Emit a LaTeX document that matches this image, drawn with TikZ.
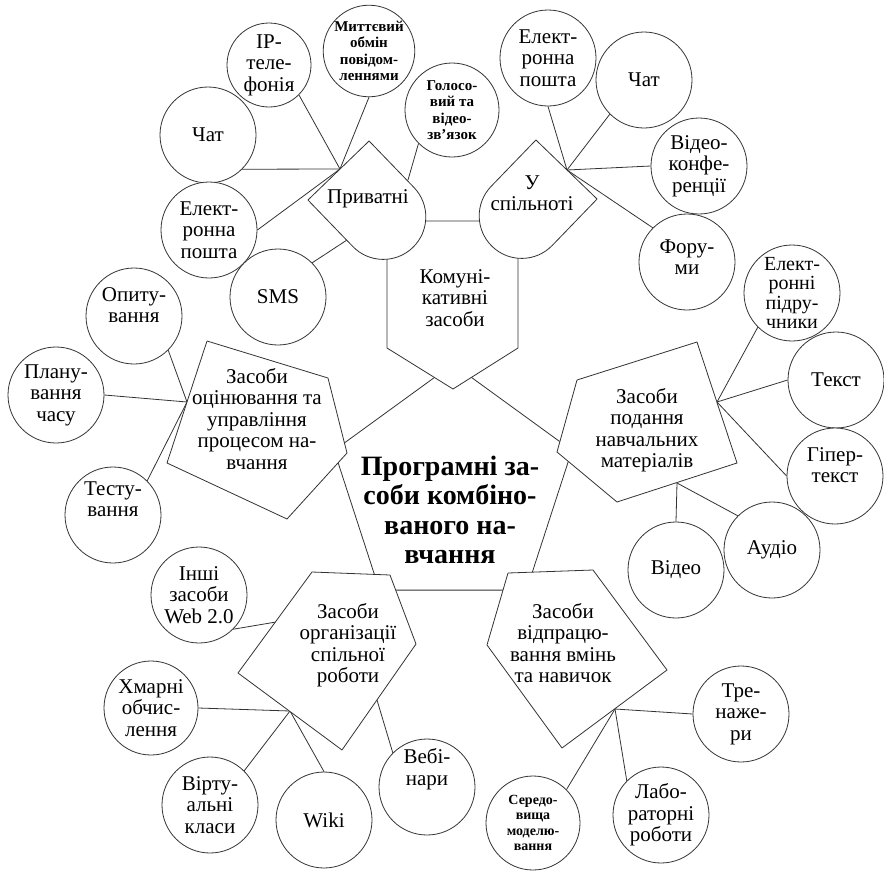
\documentclass[tikz,border=0pt]{standalone}
\usepackage{fontspec}
\setmainfont{Liberation Serif}
\usetikzlibrary{positioning}

\begin{document}
\begin{tikzpicture}[x=1pt, y=-1pt, line width=0.8pt,
    leaf/.style={circle, draw=black!80, fill=white, minimum size=96pt, inner sep=0pt,
        align=center, font=\fontsize{21}{21.5}\selectfont},
    tiny/.style={font=\fontsize{15}{16.5}\selectfont\bfseries},
    box/.style={draw=black!80, fill=white, line join=round},
    txt/.style={align=center, inner sep=0pt, font=\fontsize{21}{21.5}\selectfont},
    ]
\useasboundingbox (0,0) rectangle (884,871);

\draw[box] (453,364) -- (571.9,450.4) -- (526.5,590.1) -- (379.5,590.1) -- (334.1,450.4) -- cycle;

% leaves
\node[leaf] (chatA) at (208,135) {Чат};
\node[leaf, minimum size=84pt] (ipA) at (269,65) {IP-\\теле-\\фонія};
\node[leaf, minimum size=90pt, tiny] (mytt) at (369,51) {Миттєвий\\обмін\\повідом-\\леннями};
\node[leaf, minimum size=94pt, tiny] (holos) at (452,110) {Голосо-\\вий та\\відео-\\зв’язок};
\node[leaf] (mailA) at (209,230) {Елект-\\ронна\\пошта};
\node[leaf] (sms) at (278,297) {SMS};

\node[leaf] (mailB) at (548,58) {Елект-\\ронна\\пошта};
\node[leaf] (chatB) at (644,80) {Чат};
\node[leaf] (vidconf) at (699,166) {Відео-\\конфе-\\ренції};
\node[leaf] (forum) at (687,262) {Фору-\\ми\\[-11.5pt]~};

\node[leaf, font=\fontsize{20}{19.5}\selectfont] (pidr) at (792,293) {Елект-\\ронні\\підру-\\чники};
\node[leaf] (tekst) at (836,380) {Текст};
\node[leaf] (hyper) at (835,476) {Гіпер-\\текст\\~};
\node[leaf] (audio) at (772,550) {Аудіо};
\node[leaf] (video) at (676,570) {Відео};

\node[leaf] (opyt) at (134,316) {Опиту-\\вання\\~};
\node[leaf] (plan) at (56,395) {Плану-\\вання\\часу};
\node[leaf] (test) at (113,515) {Тесту-\\вання\\[10.5pt]~};

\node[leaf] (web) at (199,595) {Інші\\засоби\\Web 2.0};
\node[leaf, minimum size=94pt] (cloud) at (151,708) {Хмарні\\обчис-\\лення};
\node[leaf] (virt) at (210,805) {Вірту-\\альні\\класи};
\node[leaf] (wiki) at (324,820) {Wiki};
\node[leaf] (webin) at (427,787) {Вебі-\\нари\\[18.5pt]~};

\node[leaf] (tren) at (741,714) {Тре-\\наже-\\ри};
\node[leaf] (lab) at (661,815) {Лабо-\\раторні\\роботи};
\node[leaf, minimum size=94pt, tiny, font=\fontsize{14}{15.5}\selectfont\bfseries] (sered) at (533,823) {Середо-\\вища\\моделю-\\вання};

% hubs
\coordinate (hP) at (340,169);
\coordinate (hP2) at (408,180);
\coordinate (hP3) at (347,240);
\coordinate (hS) at (567,170);
\coordinate (hM) at (717,402);
\coordinate (hM2) at (677,483);
\coordinate (hO) at (187,402);
\coordinate (hR) at (290,711);
\coordinate (hR2) at (276,622);
\coordinate (hR3) at (377,700);
\coordinate (hV) at (615,709);

\foreach \n/\a in {chatA/-45, ipA/-45, mytt/-90, mailA/0}
    \draw[black!80] (\n.\a) -- (hP);
\draw[black!80] (holos.-135) -- (hP2);
\draw[black!80] (sms.45) -- (hP3);
\foreach \n/\a in {mailB/-90, chatB/-135, vidconf/180, forum/135}
    \draw[black!80] (\n.\a) -- (hS);
\foreach \n/\a in {pidr/-135, tekst/180, hyper/180}
    \draw[black!80] (\n.\a) -- (hM);
\foreach \n/\a in {audio/135, video/90}
    \draw[black!80] (\n.\a) -- (hM2);
\foreach \n/\a in {opyt/-45, plan/0, test/45}
    \draw[black!80] (\n.\a) -- (hO);
\foreach \n/\a in {cloud/0, virt/45, wiki/90}
    \draw[black!80] (\n.\a) -- (hR);
\draw[black!80] (web.-45) -- (hR2);
\draw[black!80] (webin.135) -- (hR3);
\foreach \n/\a in {tren/180, lab/135, sered/45}
    \draw[black!80] (\n.\a) -- (hV);

% groups
\draw[box] (387,221) -- (518,221) -- (518,348) -- (453,389) -- (387,348) -- cycle;
\begin{scope}[shift={(338.5,170.5)}, rotate=-46]
\draw[box] (0,42.5) -- (0,-42.5) -- (64.5,-42.5) arc[start angle=-90, end angle=90, radius=42.5] -- cycle;
\end{scope}
\begin{scope}[shift={(566.5,169.5)}, rotate=-134]
\draw[box] (0,42.5) -- (0,-42.5) -- (64.5,-42.5) arc[start angle=-90, end angle=90, radius=42.5] -- cycle;
\end{scope}
\draw[box] (207,341) -- (328,378) -- (347,453) -- (287,519) -- (167,463) -- cycle;
\draw[box] (577,380) -- (697,342) -- (737,463) -- (617,502) -- (557,452) -- cycle;
\draw[box] (312,572) -- (390,575) -- (416,644) -- (342,750) -- (238,673) -- cycle;
\draw[box] (508,573) -- (593,570) -- (667,670) -- (562,748) -- (487,645) -- cycle;

\node[txt] (pryv) at (368,199) {Приватні};
\node[txt] (spil) at (532,193) {У\\спільноті};
\node[txt] (komun) at (455,298) {Комуні-\\кативні\\засоби};
\node[txt] (ocin) at (257,419) {Засоби\\оцінювання та\\управління\\процесом на-\\вчання};
\node[txt] (podan) at (647,430) {Засоби\\подання\\навчальних\\матеріалів};
\node[txt] (orhan) at (348,645) {Засоби\\організації\\спільної\\роботи};
\node[txt] (vidpr) at (563,643) {Засоби\\відпрацю-\\вання вмінь\\та навичок};
\node[txt, font=\fontsize{28}{29.5}\selectfont\bfseries] (core) at (450,510) {Програмні за-\\соби комбіно-\\ваного на-\\вчання};

\end{tikzpicture}
\end{document}
